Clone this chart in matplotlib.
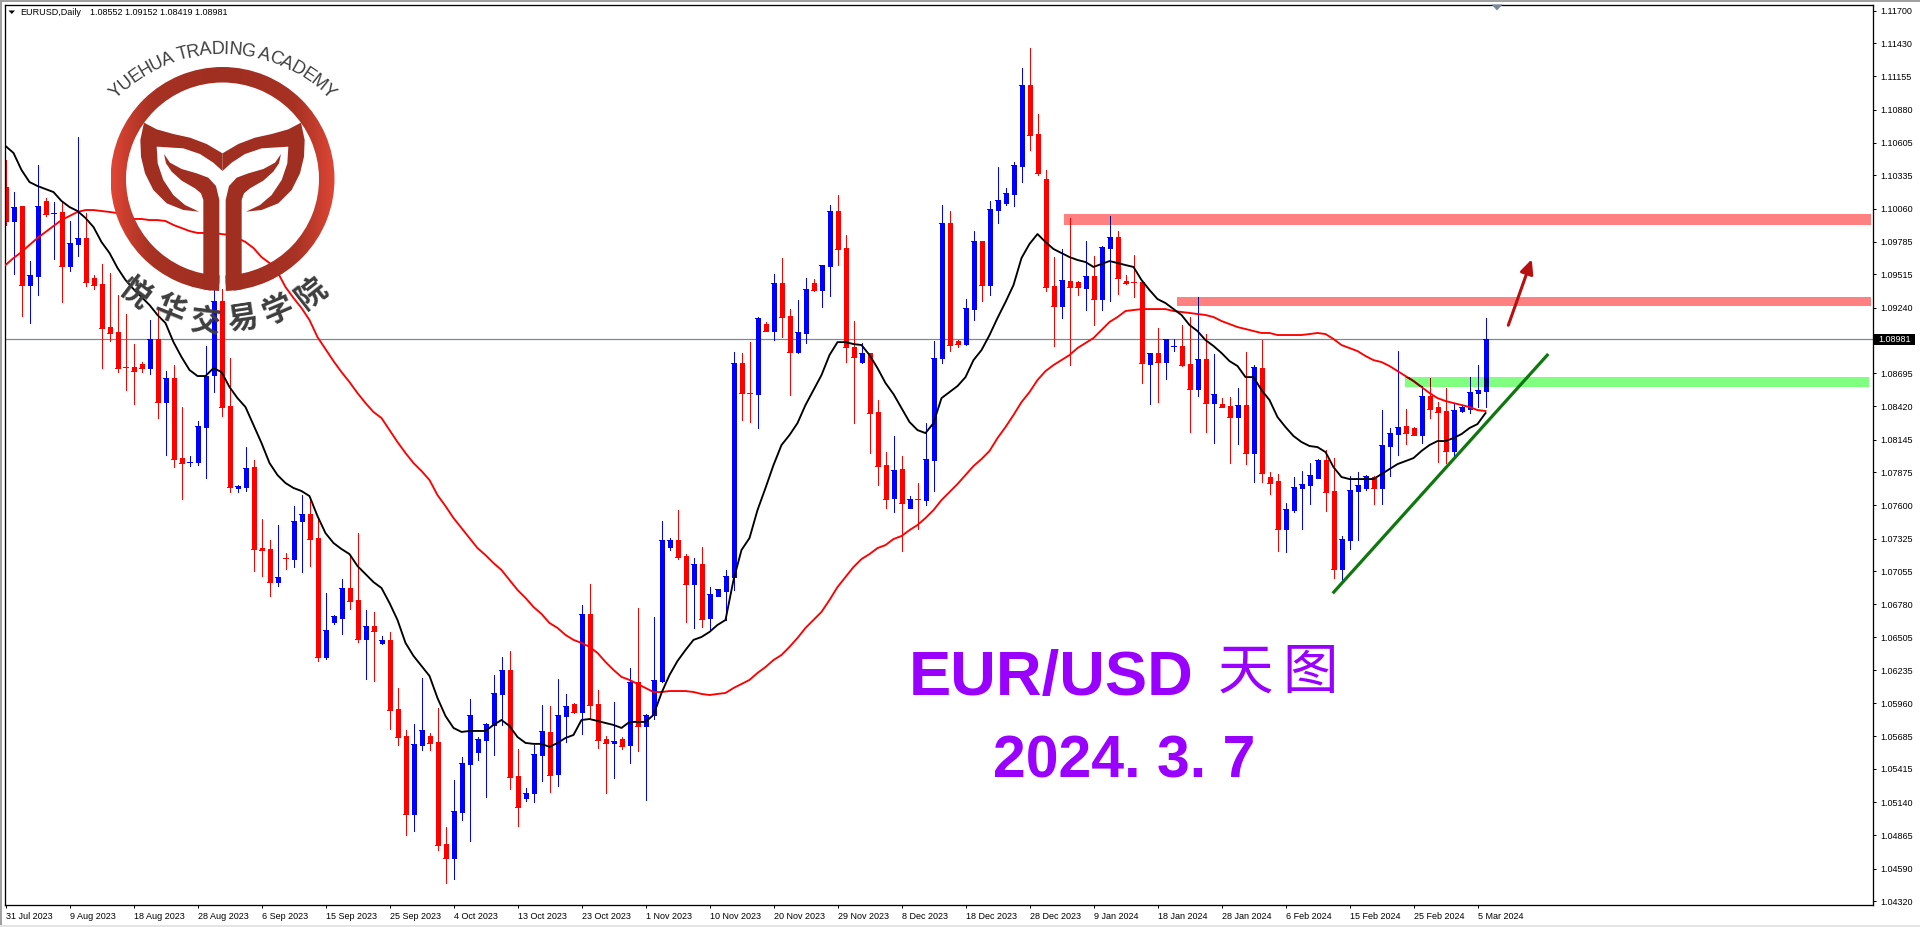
import numpy as np
import matplotlib
matplotlib.use("Agg")
import matplotlib.pyplot as plt
from matplotlib.colors import LinearSegmentedColormap
from matplotlib.font_manager import FontProperties
from matplotlib.patches import Polygon, Rectangle, Wedge
from matplotlib.textpath import text_to_path

# daily EURUSD candles
opens = [
    1.10239,1.09957,1.10081,1.09426,1.09501,1.10123,1.10022,1.10032,1.09584,1.09767,
    1.09816,1.09484,1.09434,1.09078,1.09037,1.08750,1.08746,1.08771,1.08738,1.08979,
    1.08456,1.08655,1.07992,1.07958,1.07959,1.08249,1.08680,1.09294,1.08423,1.07744,
    1.07752,1.07917,1.07243,1.07238,1.06964,1.07165,1.07155,1.07470,1.07528,1.07329,
    1.06344,1.06634,1.06667,1.06915,1.06816,1.06493,1.06600,1.06460,1.06485,1.05912,
    1.05689,1.05042,1.05615,1.05689,1.05639,1.04793,1.04677,1.05059,1.05457,1.05556,
    1.05656,1.05780,1.06037,1.06236,1.05357,1.05175,1.05216,1.05532,1.05722,1.05374,
    1.05854,1.05954,1.05887,1.06700,1.05954,1.05664,1.05631,1.05664,1.05615,1.06136,
    1.05771,1.05863,1.06145,1.07254,1.07312,1.07180,1.06948,1.07113,1.06667,1.06848,
    1.06890,1.07006,1.08779,1.08534,1.08522,1.09103,1.09045,1.09443,1.09169,1.08871,
    1.09029,1.09443,1.09385,1.09584,1.10040,1.09733,1.08912,1.08788,1.08863,1.08374,
    1.07934,1.07661,1.07901,1.07578,1.07655,1.07644,1.07975,1.08821,1.09940,1.08962,
    1.08937,1.09227,1.09791,1.09426,1.10048,1.10106,1.10181,1.10412,1.11084,1.10678,
    1.10305,1.09418,1.09252,1.09460,1.09451,1.09401,1.09501,1.09310,1.09733,1.09825,
    1.09460,1.09454,1.09451,1.08771,1.08863,1.08788,1.08918,1.08921,1.08771,1.08564,
    1.08813,1.08448,1.08440,1.08423,1.08332,1.08432,1.08034,1.08738,1.07835,1.07802,
    1.07404,1.07561,1.07744,1.07768,1.07826,1.07975,1.07719,1.07072,1.07312,1.07719,
    1.07744,1.07835,1.07744,1.08092,1.08191,1.08257,1.08241,1.08183,1.08506,1.08415,
    1.08382,1.08051,1.08382,1.08398,1.08531,1.08552,
]
highs = [
    1.10463,1.10197,1.10081,1.09625,1.10421,1.10148,1.10114,1.10114,1.09957,1.10653,
    1.10023,1.09509,1.09603,1.09526,1.09343,1.09186,1.08937,1.08788,1.09136,1.09227,
    1.08713,1.08763,1.08415,1.08009,1.08299,1.08921,1.09385,1.09393,1.08821,1.07768,
    1.08083,1.07975,1.07486,1.07312,1.07437,1.07205,1.07594,1.07685,1.07661,1.07495,
    1.06873,1.06692,1.06989,1.07188,1.07370,1.06733,1.06717,1.06518,1.06551,1.06086,
    1.05738,1.05788,1.06169,1.05713,1.05921,1.04934,1.05324,1.05515,1.05995,1.05681,
    1.05796,1.06194,1.06344,1.06393,1.05581,1.05258,1.05615,1.05946,1.05937,1.06162,
    1.06037,1.05962,1.06775,1.06948,1.06070,1.05689,1.05970,1.05681,1.06252,1.06750,
    1.05871,1.06675,1.07470,1.07329,1.07561,1.07196,1.07163,1.07254,1.06923,1.06907,
    1.07064,1.08871,1.08863,1.08953,1.09161,1.09120,1.09518,1.09650,1.09227,1.09302,
    1.09484,1.09476,1.09592,1.10090,1.10172,1.09841,1.09128,1.08945,1.08863,1.08473,
    1.08042,1.08175,1.08009,1.07677,1.07785,1.08282,1.08962,1.10090,1.10040,1.08970,
    1.09310,1.09874,1.09791,1.10123,1.10405,1.10231,1.10446,1.11225,1.11391,1.10844,
    1.10380,1.09658,1.09725,1.09982,1.09460,1.09791,1.09667,1.09750,1.09999,1.09874,
    1.09509,1.09675,1.09460,1.08863,1.09070,1.08979,1.08979,1.09095,1.09161,1.09327,
    1.09020,1.08854,1.08489,1.08498,1.08572,1.08871,1.08763,1.08970,1.07876,1.07859,
    1.07619,1.07835,1.07884,1.07951,1.07984,1.08059,1.07992,1.07346,1.07843,1.07876,
    1.07851,1.07843,1.08390,1.08241,1.08879,1.08398,1.08249,1.08589,1.08655,1.08456,
    1.08572,1.08440,1.08423,1.08663,1.08763,1.09152,
]
lows = [
    1.09924,1.09518,1.09169,1.09111,1.09343,1.09999,1.09642,1.09285,1.09540,1.09667,
    1.09418,1.09393,1.08738,1.08962,1.08705,1.08556,1.08440,1.08705,1.08688,1.08324,
    1.08017,1.07917,1.07652,1.07926,1.07934,1.07826,1.08539,1.08340,1.07710,1.07710,
    1.07719,1.07055,1.07014,1.06848,1.06931,1.07072,1.07089,1.07047,1.07097,1.06310,
    1.06327,1.06617,1.06534,1.06741,1.06468,1.06162,1.06145,1.06451,1.05747,1.05615,
    1.04868,1.04901,1.05573,1.05573,1.04744,1.04470,1.04503,1.04992,1.04818,1.05490,
    1.05183,1.05532,1.05780,1.05249,1.04942,1.05150,1.05141,1.05316,1.05225,1.05274,
    1.05639,1.05879,1.05705,1.05829,1.05590,1.05216,1.05341,1.05581,1.05465,1.05565,
    1.05158,1.05829,1.06136,1.07230,1.07155,1.06634,1.06584,1.06592,1.06559,1.06848,
    1.06650,1.06899,1.08307,1.08291,1.08241,1.09045,1.08970,1.08995,1.08514,1.08863,
    1.08945,1.09376,1.09244,1.09335,1.09592,1.08788,1.08282,1.08779,1.08034,1.07768,
    1.07578,1.07545,1.07221,1.07578,1.07404,1.07602,1.07719,1.08779,1.08879,1.08912,
    1.08929,1.09136,1.09294,1.09343,1.09940,1.10090,1.10081,1.10280,1.10546,1.10338,
    1.09376,1.08921,1.09153,1.08763,1.09343,1.09219,1.09095,1.09219,1.09294,1.09351,
    1.09434,1.09327,1.08614,1.08440,1.08456,1.08647,1.08879,1.08755,1.08208,1.08506,
    1.08208,1.08117,1.08415,1.07951,1.08108,1.07942,1.07793,1.07793,1.07694,1.07221,
    1.07213,1.07545,1.07404,1.07610,1.07826,1.07553,1.06998,1.06964,1.07238,1.07312,
    1.07727,1.07610,1.07610,1.07843,1.08017,1.08108,1.08183,1.08117,1.08324,1.07959,
    1.07951,1.07992,1.08374,1.08365,1.08415,1.08419,
]
closes = [
    1.09957,1.10073,1.09426,1.09509,1.10081,1.10015,1.10025,1.09584,1.09775,1.09816,
    1.09451,1.09426,1.09070,1.09029,1.08738,1.08745,1.08713,1.08738,1.08979,1.08456,
    1.08655,1.07984,1.07951,1.07961,1.08257,1.08672,1.09294,1.08415,1.07752,1.07760,
    1.07909,1.07238,1.07234,1.06964,1.07006,1.07160,1.07470,1.07528,1.07321,1.06344,
    1.06567,1.06683,1.06915,1.06808,1.06493,1.06600,1.06559,1.06485,1.05904,1.05681,
    1.05042,1.05623,1.05738,1.05631,1.04785,1.04677,1.05067,1.05465,1.05863,1.05664,
    1.05788,1.06045,1.06236,1.05349,1.05100,1.05216,1.05540,1.05730,1.05366,1.05863,
    1.05937,1.05887,1.06700,1.05946,1.05656,1.05631,1.05647,1.05606,1.06136,1.05771,
    1.05863,1.06153,1.07312,1.07312,1.07172,1.06948,1.07113,1.06659,1.06865,1.06907,
    1.07014,1.08779,1.08531,1.08528,1.09153,1.09045,1.09443,1.09161,1.08871,1.09037,
    1.09393,1.09385,1.09592,1.10040,1.09725,1.08912,1.08830,1.08863,1.08365,1.07926,
    1.07652,1.07893,1.07619,1.07652,1.07649,1.07984,1.08821,1.09940,1.08929,1.08937,
    1.09236,1.09791,1.09426,1.10056,1.10131,1.10189,1.10421,1.11084,1.10670,1.10355,
    1.09410,1.09252,1.09468,1.09410,1.09410,1.09501,1.09310,1.09742,1.09825,1.09484,
    1.09443,1.09448,1.08779,1.08863,1.08788,1.08979,1.08924,1.08763,1.08564,1.08813,
    1.08448,1.08522,1.08415,1.08332,1.08432,1.08034,1.08746,1.07868,1.07785,1.07404,
    1.07569,1.07752,1.07777,1.07851,1.07975,1.07710,1.07072,1.07321,1.07727,1.07768,
    1.07843,1.07744,1.08100,1.08199,1.08249,1.08199,1.08183,1.08506,1.08398,1.08374,
    1.08051,1.08390,1.08415,1.08539,1.08556,1.08981,
]
ma_fast = [
    1.10579,1.10521,1.10380,1.10280,1.10247,1.10222,1.10197,1.10123,1.10073,1.10040,
    1.09982,1.09907,1.09783,1.09692,1.09568,1.09468,1.09393,1.09327,1.09261,1.09178,
    1.09111,1.08953,1.08830,1.08722,1.08672,1.08672,1.08738,1.08705,1.08581,1.08489,
    1.08415,1.08266,1.08117,1.07951,1.07851,1.07785,1.07744,1.07719,1.07677,1.07511,
    1.07370,1.07288,1.07238,1.07196,1.07097,1.07031,1.06964,1.06915,1.06791,1.06650,
    1.06460,1.06352,1.06269,1.06186,1.06003,1.05854,1.05755,1.05722,1.05730,1.05730,
    1.05730,1.05780,1.05821,1.05771,1.05680,1.05631,1.05623,1.05623,1.05598,1.05631,
    1.05672,1.05697,1.05821,1.05829,1.05813,1.05796,1.05780,1.05755,1.05805,1.05805,
    1.05805,1.05863,1.06045,1.06194,1.06310,1.06401,1.06485,1.06509,1.06551,1.06609,
    1.06650,1.06981,1.07230,1.07329,1.07561,1.07744,1.07934,1.08100,1.08183,1.08282,
    1.08432,1.08556,1.08680,1.08846,1.08953,1.08953,1.08937,1.08929,1.08846,1.08738,
    1.08614,1.08522,1.08407,1.08291,1.08224,1.08199,1.08282,1.08489,1.08539,1.08589,
    1.08663,1.08804,1.08887,1.09011,1.09153,1.09285,1.09426,1.09650,1.09767,1.09849,
    1.09783,1.09725,1.09692,1.09658,1.09634,1.09617,1.09576,1.09601,1.09625,1.09609,
    1.09592,1.09576,1.09468,1.09385,1.09310,1.09277,1.09227,1.09178,1.09095,1.09045,
    1.08970,1.08921,1.08863,1.08796,1.08755,1.08663,1.08663,1.08556,1.08473,1.08332,
    1.08249,1.08175,1.08125,1.08092,1.08083,1.08042,1.07917,1.07835,1.07818,1.07818,
    1.07818,1.07818,1.07859,1.07901,1.07942,1.07967,1.07992,1.08051,1.08100,1.08133,
    1.08133,1.08158,1.08191,1.08241,1.08274,1.08365,
]
ma_slow = [
    1.09592,1.09650,1.09700,1.09759,1.09816,1.09866,1.09916,1.09965,1.09999,1.10032,
    1.10048,1.10048,1.10040,1.10032,1.10023,1.09999,1.09974,1.09974,1.09965,1.09965,
    1.09957,1.09924,1.09899,1.09874,1.09858,1.09858,1.09858,1.09849,1.09841,1.09816,
    1.09783,1.09733,1.09658,1.09609,1.09534,1.09410,1.09319,1.09236,1.09136,1.08995,
    1.08896,1.08796,1.08705,1.08622,1.08531,1.08448,1.08374,1.08324,1.08224,1.08125,
    1.08034,1.07951,1.07885,1.07810,1.07685,1.07594,1.07495,1.07412,1.07329,1.07246,
    1.07188,1.07122,1.07064,1.06981,1.06899,1.06833,1.06758,1.06700,1.06625,1.06584,
    1.06526,1.06485,1.06460,1.06427,1.06377,1.06302,1.06236,1.06178,1.06153,1.06120,
    1.06086,1.06053,1.06053,1.06061,1.06061,1.06061,1.06053,1.06037,1.06028,1.06037,
    1.06045,1.06086,1.06120,1.06153,1.06211,1.06260,1.06318,1.06360,1.06427,1.06501,
    1.06584,1.06650,1.06717,1.06816,1.06923,1.07006,1.07089,1.07155,1.07196,1.07246,
    1.07271,1.07321,1.07346,1.07395,1.07437,1.07495,1.07561,1.07644,1.07710,1.07777,
    1.07851,1.07926,1.07984,1.08051,1.08158,1.08249,1.08349,1.08456,1.08539,1.08639,
    1.08713,1.08763,1.08804,1.08846,1.08904,1.08945,1.08987,1.09053,1.09120,1.09161,
    1.09211,1.09219,1.09227,1.09227,1.09227,1.09227,1.09211,1.09203,1.09195,1.09186,
    1.09178,1.09161,1.09128,1.09103,1.09078,1.09062,1.09045,1.09029,1.09029,1.09012,
    1.09012,1.09012,1.09012,1.09020,1.09029,1.09020,1.08979,1.08929,1.08904,1.08879,
    1.08838,1.08804,1.08788,1.08755,1.08713,1.08672,1.08631,1.08581,1.08531,1.08489,
    1.08465,1.08448,1.08432,1.08415,1.08390,1.08382,
]
last_price = 1.08981

date_labels = [
    "31 Jul 2023", "9 Aug 2023", "18 Aug 2023", "28 Aug 2023", "6 Sep 2023", "15 Sep 2023",
    "25 Sep 2023", "4 Oct 2023", "13 Oct 2023", "23 Oct 2023", "1 Nov 2023", "10 Nov 2023",
    "20 Nov 2023", "29 Nov 2023", "8 Dec 2023", "18 Dec 2023", "28 Dec 2023", "9 Jan 2024",
    "18 Jan 2024", "28 Jan 2024", "6 Feb 2024", "15 Feb 2024", "25 Feb 2024", "5 Mar 2024",
]
price_ticks = [
    1.11700, 1.11430, 1.11155, 1.10880, 1.10605, 1.10335, 1.10060, 1.09785, 1.09515, 1.09240,
    1.08695, 1.08420, 1.08145, 1.07875, 1.07600, 1.07325, 1.07055, 1.06780, 1.06505, 1.06235,
    1.05960, 1.05685, 1.05415, 1.05140, 1.04865, 1.04590, 1.04320,
]

# drawn objects on the chart: (first bar, last bar, low price, high price)
resist_upper = (132.31, 233.19, 1.09924, 1.10015)
resist_lower = (146.44, 233.19, 1.09253, 1.09327)
support_band = (174.94, 232.94, 1.08581, 1.08664)
trend_x = [165.9, 192.85]
trend_y = [1.06871, 1.08855]
arrow_from = (187.85, 1.09093)
arrow_to = (190.78, 1.09640)

W, H = 1920, 927
UI_FONT = "Liberation Sans"
UI_SIZE = 6.5
PURPLE = "#9900FF"
LOGO_DARK = "#A02F22"
LOGO_GREY = "#3E3E3E"
PX = 0.72  # one pixel in points at dpi 100

fig = plt.figure(figsize=(W / 100, H / 100), dpi=100, facecolor="white")
ax = fig.add_axes([4.5 / W, (H - 904.5) / H, 1868 / W, 900 / H])
ax.set_xlim(-0.125, 233.375)
ax.set_ylim(1.042916, 1.117517)

x = np.arange(len(closes))
o, h, l, c = map(np.array, (opens, highs, lows, closes))
up = c >= o


def draw_candles(up_color, down_color, z, clip=None):
    drawn = []
    for mask, col in ((up, up_color), (~up, down_color)):
        drawn.append(ax.vlines(x[mask], l[mask], h[mask], colors=col, lw=PX,
                               antialiased=False, zorder=z))
        top = np.maximum(o[mask], c[mask])
        bot = np.minimum(o[mask], c[mask])
        drawn.append(ax.vlines(x[mask], bot, top, colors=col, lw=5 * PX,
                               antialiased=False, zorder=z))
        # keeps doji bodies visible
        drawn.append(ax.hlines(c[mask], x[mask] - 0.3, x[mask] + 0.3, colors=col, lw=PX,
                               antialiased=False, zorder=z))
    if clip is not None:
        for art in drawn:
            art.set_clip_path(clip)


bands = []
for (x0, x1, y0, y1), col in ((resist_upper, "#FF8080"), (resist_lower, "#FF8080"), (support_band, "#80FF80")):
    rect = Rectangle((x0, y0), x1 - x0, y1 - y0, facecolor=col, edgecolor="none", zorder=1)
    ax.add_patch(rect)
    bands.append(rect)

ax.axhline(last_price, color="#778899", lw=PX * 1.2, zorder=1.5)
draw_candles("#0000FF", "#FF0000", 2)

# the bands multiply over what lies under them
draw_candles("#000080", "#FF0000", 2.5, bands[0])
draw_candles("#000080", "#FF0000", 2.5, bands[1])
draw_candles("#000080", "#800000", 2.5, bands[2])

ax.plot(x, ma_slow, color="#FF0000", lw=1.35, zorder=3)
dark_ma = ax.plot(x, ma_slow, color="#800000", lw=1.35, zorder=3.1)[0]
dark_ma.set_clip_path(bands[2])
ax.plot(x, ma_fast, color="#000000", lw=1.35, zorder=3.2)

ax.plot(trend_x, trend_y, color="#0E780E", lw=2.3, zorder=4, solid_capstyle="butt")
ax.annotate("", xy=arrow_to, xytext=arrow_from, zorder=4,
            arrowprops=dict(arrowstyle="-|>,head_length=0.6,head_width=0.28", color="#B80F0F", lw=2.2,
                            mutation_scale=14, shrinkA=0, shrinkB=0))

for side in ax.spines.values():
    side.set_linewidth(PX * 1.3)
ax.yaxis.tick_right()
ax.set_yticks(price_ticks, [f"{p:.5f}" for p in price_ticks], fontfamily=UI_FONT, fontsize=UI_SIZE)
ax.tick_params(axis="y", length=2.2, width=PX, pad=3.6)
ax.set_xticks(np.arange(len(date_labels)) * 8, date_labels, fontfamily=UI_FONT, fontsize=UI_SIZE, ha="left")
ax.tick_params(axis="x", length=2, width=PX, pad=3.2)

# pixel-space layer for the window chrome, captions and logo
top = fig.add_axes([0, 0, 1, 1], zorder=10)
top.patch.set_visible(False)
top.axis("off")

top.add_patch(Rectangle((0, 0), W, 2, color="#A0A0A0", lw=0))
top.add_patch(Rectangle((0, 0), 2, H, color="#A0A0A0", lw=0))
top.add_patch(Rectangle((0, 924.5), W, 2.5, color="#E4E4E4", lw=0))
top.add_patch(Polygon([(1491.5, 4.5), (1502.5, 4.5), (1497, 10.5)], color="#778899", lw=0))
top.add_patch(Polygon([(8.5, 10.5), (15, 10.5), (11.75, 14)], color="black", lw=0))

top.text(20, 12.7, "EURUSD,Daily", fontfamily=UI_FONT, fontsize=UI_SIZE, va="center")
top.text(90.5, 12.7, "1.08552 1.09152 1.08419 1.08981", fontfamily=UI_FONT, fontsize=UI_SIZE, va="center")

top.add_patch(Rectangle((1874, 334), 41, 11, color="black", lw=0))
top.text(1878.7, 339.5, f"{last_price:.5f}", color="white", fontfamily=UI_FONT, fontsize=UI_SIZE, va="center")

top.text(908.5, 695, "EUR/USD", color=PURPLE, fontfamily=UI_FONT, fontweight="bold", fontsize=45.5)
top.text(1245, 673, "天", color=PURPLE, family="Noto Sans CJK SC", fontsize=40, ha="center", va="center")
top.text(1310, 673, "图", color=PURPLE, family="Noto Sans CJK SC", fontsize=40, ha="center", va="center")
top.text(993, 778, "2024. 3. 7", color=PURPLE, fontfamily=UI_FONT, fontweight="bold", fontsize=42.5)

# logo ring with the lighter sides
cx, cy = 222.5, 179
ring = Wedge((cx, cy), 112, 91.7, 88.3 + 360, width=15.5, facecolor="none", edgecolor="none")
top.add_patch(ring)
ramp = LinearSegmentedColormap.from_list("ring", [LOGO_DARK, "#A83224", "#E04636"])
shade = np.abs(np.linspace(-1, 1, 256)).reshape(1, -1) ** 1.6
img = top.imshow(shade, cmap=ramp, extent=(cx - 112, cx + 112, cy + 112, cy - 112), aspect="auto", zorder=1)
img.set_clip_path(ring)

# wing and stem outlines, in 3x crop units around the centre line
wing = [(432, 368), (470, 388), (520, 402), (570, 413), (620, 432), (667.5, 460), (667.5, 513), (640, 488),
        (600, 462), (550, 445), (470, 440), (473, 490), (490, 540), (520, 585), (555, 615), (597, 635),
        (550, 630), (500, 610), (460, 570), (435, 520), (423, 470), (421, 420)]
stem = [(492, 462), (510, 488), (545, 507), (590, 520), (625, 533), (648, 558), (658, 600), (658, 850),
        (650, 865), (630, 872), (610, 868), (610, 600), (603, 580), (585, 565), (545, 542), (515, 515), (498, 490)]
for outline in (wing, stem):
    left = [(px / 3, py / 3) for px, py in outline]
    right = [(445 - px, py) for px, py in left]
    top.add_patch(Polygon(left, color=LOGO_DARK, lw=0, zorder=2))
    top.add_patch(Polygon(right, color=LOGO_DARK, lw=0, zorder=2))

# curved academy name
name = "YUEHUA TRADING ACADEMY"
name_font = FontProperties(family=UI_FONT, size=13)
widths = [text_to_path.get_text_width_height_descent(name[:k], name_font, False)[0] for k in range(len(name) + 1)]
arc_x, arc_y, arc_r = 222.5, 201.7, 148
span = 92.0
for k, ch in enumerate(name):
    mid = (widths[k] + widths[k + 1]) / 2 / widths[-1]
    a = np.radians((mid - 0.5) * span)
    top.text(arc_x + arc_r * np.sin(a), arc_y - arc_r * np.cos(a), ch, color=LOGO_GREY, fontproperties=name_font,
             rotation=-np.degrees(a), rotation_mode="anchor", ha="center", va="baseline", zorder=3)

seal = "悦华交易学院"
seal_pos = [(135, 293), (170, 310), (205, 322), (243, 320), (278, 310), (312, 293)]
seal_rot = [-37, -22, -7, 8.5, 23, 38]
for ch, (px, py), rot in zip(seal, seal_pos, seal_rot):
    top.text(px, py, ch, color=LOGO_GREY, family="Noto Sans CJK SC", fontweight="bold", fontsize=22,
             rotation=rot, rotation_mode="anchor", ha="center", va="center", zorder=3)

top.set_xlim(0, W)
top.set_ylim(H, 0)

fig.savefig("out.png", dpi=100)
